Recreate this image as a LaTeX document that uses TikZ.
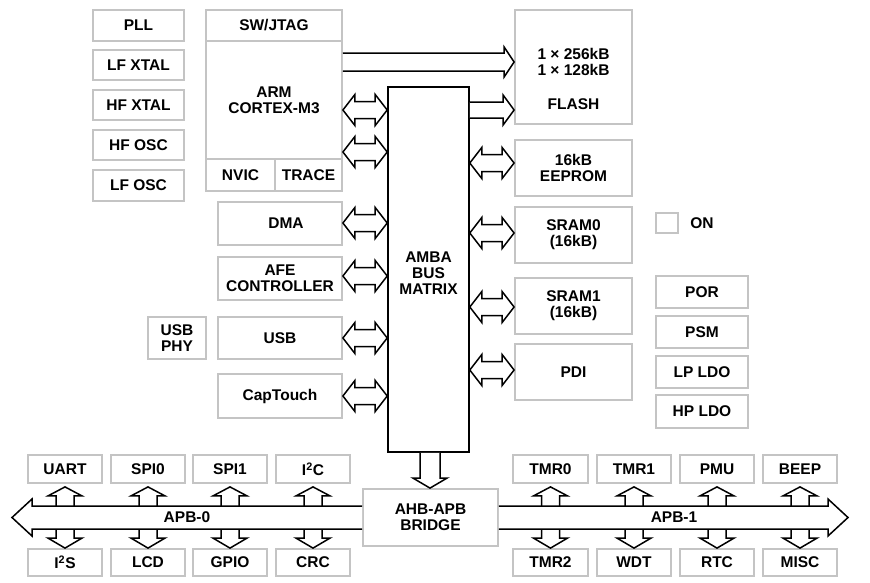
\documentclass[tikz,border=0pt]{standalone}
\usepackage{fontspec}
\setmainfont{Liberation Sans}
\usetikzlibrary{calc}
\definecolor{boxgray}{RGB}{196,196,196}
\tikzset{
  txt/.style={font=\fontsize{15.5}{16}\selectfont\bfseries},
  box/.style={txt, draw=boxgray, line width=1.8pt, fill=white, inner sep=0pt, align=center},
  lbl/.style={txt, inner sep=0pt, align=center},
  mbox/.style={txt, draw=black, line width=1.6pt, fill=white, inner sep=0pt, align=center},
  fat/.style={draw=black, line width=1.5pt, fill=white, line join=miter},
}
\newcommand\bx[6]{\node[box, minimum width={(#4)-(#2)}, minimum height={(#5)-(#3)}] (#1) at ({((#2)+(#4))/2},{((#3)+(#5))/2}) {#6};}
% double-headed horizontal fat arrow between two anchors at height y
\newcommand\dblh[3]{%
  \coordinate (L) at (#1 |- 0,#3);
  \coordinate (R) at (#2 |- 0,#3);
  \draw[fat] (L) -- ($(L)+(12,-15.5)$) -- ($(L)+(12,-8.5)$) -- ($(R)+(-12,-8.5)$) -- ($(R)+(-12,-15.5)$) -- (R)
    -- ($(R)+(-12,15.5)$) -- ($(R)+(-12,8.5)$) -- ($(L)+(12,8.5)$) -- ($(L)+(12,15.5)$) -- cycle;}
% single-headed horizontal fat arrow, open tail: left, right, y, shaft half, head half, head length
\newcommand\sglh[6]{%
  \coordinate (L) at (#1 |- 0,#3);
  \coordinate (R) at (#2 |- 0,#3);
  \draw[fat] ($(L)+(0,-#4)$) -- ($(R)+(-#6,-#4)$) -- ($(R)+(-#6,-#5)$) -- (R) -- ($(R)+(-#6,#5)$) -- ($(R)+(-#6,#4)$) -- ($(L)+(0,#4)$);}
% small vertical arrows between bus and peripheral boxes
\newcommand\upar[1]{%
  \coordinate (T) at ($(#1.south)+(0,3)$);
  \coordinate (B) at (#1.south |- 0,506);
  \draw[fat] ($(B)+(-9,0)$) -- ($(T)+(-9,9)$) -- ($(T)+(-17,9)$) -- (T) -- ($(T)+(17,9)$) -- ($(T)+(9,9)$) -- ($(B)+(9,0)$);}
\newcommand\dnar[1]{%
  \coordinate (T) at (#1.north);
  \coordinate (B) at (#1.north |- 0,529);
  \draw[fat] ($(B)+(-9,0)$) -- ($(T)+(-9,-10)$) -- ($(T)+(-17,-10)$) -- (T) -- ($(T)+(17,-10)$) -- ($(T)+(9,-10)$) -- ($(B)+(9,0)$);}
\begin{document}
\begin{tikzpicture}[x=1pt,y=-1pt]
\useasboundingbox (0,0) rectangle (870,582);
% clock column
\bx{pll}{93}{10}{184}{41}{PLL}
\bx{lfx}{93}{50}{184}{80}{LF XTAL}
\bx{hfx}{93}{90}{184}{120}{HF XTAL}
\bx{hfo}{93}{130}{184}{160}{HF OSC}
\bx{lfo}{93}{170}{184}{201}{LF OSC}
% ARM core
\bx{arm}{206}{10}{342}{191}{ARM\\CORTEX-M3}
\bx{jtag}{206}{10}{342}{41}{SW/JTAG}
\bx{nvic}{206}{159}{275}{191}{NVIC}
\bx{trace}{275}{159}{342}{191}{TRACE}
% masters
\bx{dma}{218}{202}{342}{245}{\hspace*{12pt}DMA}
\bx{afe}{218}{257}{342}{300}{AFE\\CONTROLLER}
\bx{usb}{218}{317}{342}{359}{USB}
\bx{cap}{218}{374}{342}{418}{CapTouch}
\bx{phy}{148}{317}{206}{359}{USB\\PHY}
% bus matrix
\node[mbox, minimum width=81, minimum height=365] (matrix) at (428.5,269.5) {};
\node[lbl] (mtext) at (428.5,273.5) {AMBA\\BUS\\MATRIX};
% memories
\bx{flash}{515}{10}{632}{124}{}
\node[lbl] (flashsize) at (573.5,61.5) {1 × 256kB\\1 × 128kB};
\node[lbl] (flashname) at (573.5,104) {FLASH};
\bx{eeprom}{515}{140}{632}{196}{16kB\\EEPROM}
\bx{sram0}{515}{207}{632}{263}{SRAM0\\(16kB)}
\bx{sram1}{515}{278}{632}{334}{SRAM1\\(16kB)}
\bx{pdi}{515}{344}{632}{400}{PDI}
% power
\bx{on}{656}{213}{678}{233}{}
\node[lbl] (ontext) at (702,223) {ON};
\bx{por}{656}{276}{748}{308}{POR}
\bx{psm}{656}{316}{748}{348}{PSM}
\bx{lpldo}{656}{356}{748}{388}{LP LDO}
\bx{hpldo}{656}{395}{748}{428}{HP LDO}
% bridge
\bx{bridge}{363}{489}{498}{546}{AHB-APB\\BRIDGE}
% APB-0 peripherals
\bx{uart}{28}{455}{102}{483}{UART}
\bx{spi0}{111}{455}{185}{483}{SPI0}
\bx{spi1}{193}{455}{267}{483}{SPI1}
\bx{iic}{276}{455}{350}{483}{I\textsuperscript{2}C}
\bx{iis}{28}{549}{102}{576}{I\textsuperscript{2}S}
\bx{lcd}{111}{549}{185}{576}{LCD}
\bx{gpio}{193}{549}{267}{576}{GPIO}
\bx{crc}{276}{549}{350}{576}{CRC}
% APB-1 peripherals
\bx{tmr0}{513}{455}{588}{483}{TMR0}
\bx{tmr1}{597}{455}{671}{483}{TMR1}
\bx{pmu}{680}{455}{754}{483}{PMU}
\bx{beep}{763}{455}{837}{483}{BEEP}
\bx{tmr2}{513}{549}{588}{576}{TMR2}
\bx{wdt}{597}{549}{671}{576}{WDT}
\bx{rtc}{680}{549}{754}{576}{RTC}
\bx{misc}{763}{549}{837}{576}{MISC}
% AHB arrows
\sglh{arm.east}{flash.west}{62}{9}{15}{10}
\dblh{arm.east}{matrix.west}{110}
\dblh{arm.east}{matrix.west}{152}
\sglh{matrix.east}{flash.west}{110}{8}{15}{11}
\dblh{matrix.east}{eeprom.west}{163}
\dblh{dma.east}{matrix.west}{223}
\dblh{afe.east}{matrix.west}{276}
\dblh{usb.east}{matrix.west}{338}
\dblh{cap.east}{matrix.west}{396}
\dblh{matrix.east}{sram0.west}{233}
\dblh{matrix.east}{sram1.west}{307}
\dblh{matrix.east}{pdi.west}{370}
% matrix to bridge
\coordinate (MT) at (matrix.south -| 430,0);
\coordinate (MB) at (bridge.north -| 430,0);
\draw[fat] ($(MT)+(-10,0)$) -- ($(MB)+(-10,-10)$) -- ($(MB)+(-17,-10)$) -- (MB) -- ($(MB)+(17,-10)$) -- ($(MB)+(10,-10)$) -- ($(MT)+(10,0)$);
% peripheral arrows
\upar{uart}\upar{spi0}\upar{spi1}\upar{iic}
\upar{tmr0}\upar{tmr1}\upar{pmu}\upar{beep}
\dnar{iis}\dnar{lcd}\dnar{gpio}\dnar{crc}
\dnar{tmr2}\dnar{wdt}\dnar{rtc}\dnar{misc}
% APB buses
\coordinate (apb0tip) at (12,517.5);
\coordinate (apb1tip) at (848,517.5);
\draw[fat] (bridge.west |- 0,506) -- ($(apb0tip)+(20,-11.5)$) -- ($(apb0tip)+(20,-18.5)$) -- (apb0tip)
  -- ($(apb0tip)+(20,18.5)$) -- ($(apb0tip)+(20,11.5)$) -- (bridge.west |- 0,529);
\draw[fat] (bridge.east |- 0,506) -- ($(apb1tip)+(-20,-11.5)$) -- ($(apb1tip)+(-20,-18.5)$) -- (apb1tip)
  -- ($(apb1tip)+(-20,18.5)$) -- ($(apb1tip)+(-20,11.5)$) -- (bridge.east |- 0,529);
\node[lbl] (apb0) at (187,517.5) {APB-0};
\node[lbl] (apb1) at (674,517.5) {APB-1};
\end{tikzpicture}
\end{document}
